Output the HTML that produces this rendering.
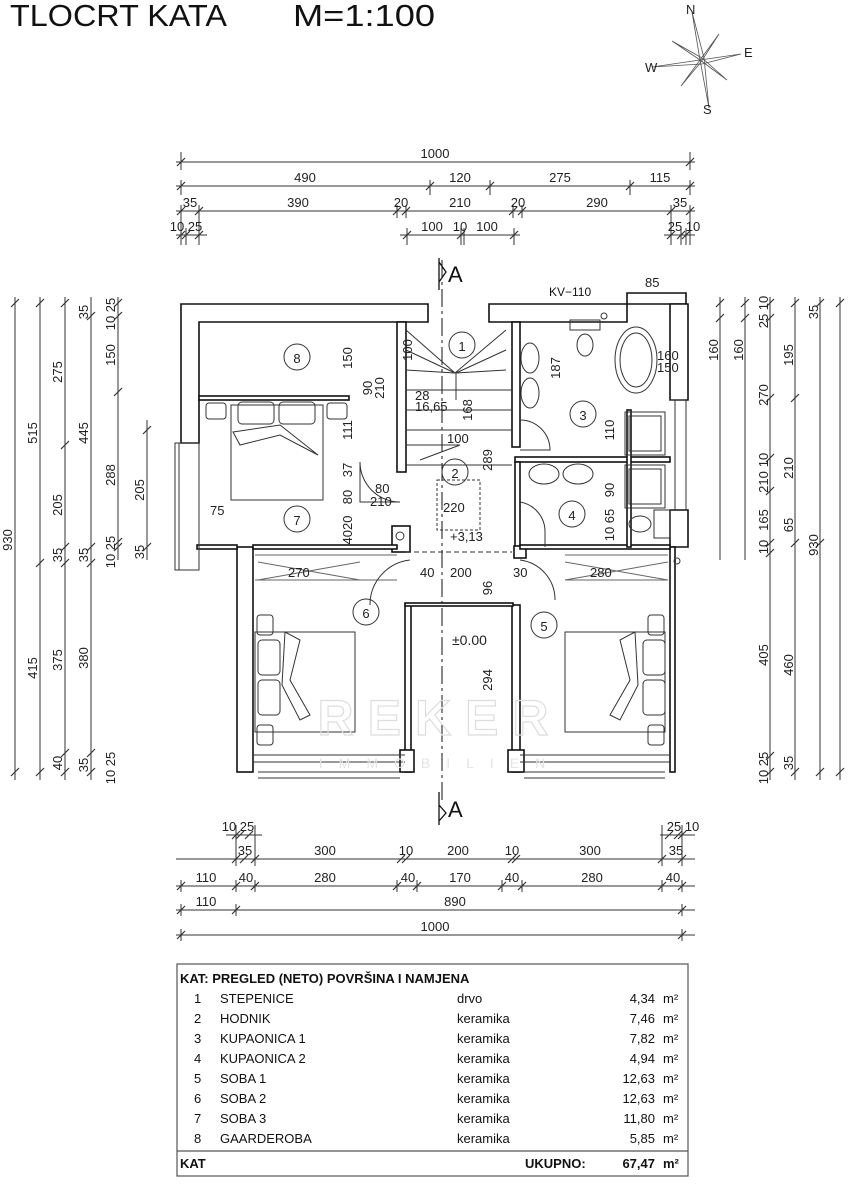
<!DOCTYPE html>
<html><head><meta charset="utf-8"><style>
html,body{margin:0;padding:0;background:#fff;width:862px;height:1200px;overflow:hidden}
svg{display:block}
.t{font-family:"Liberation Sans Narrow","Liberation Sans",sans-serif;font-size:13px;fill:#222}
.d{stroke:#333;stroke-width:1;fill:none}
.w{stroke:#111;stroke-width:1.6;fill:#fff}
.f{stroke:#333;stroke-width:1;fill:none}
.tb{font-family:"Liberation Sans",sans-serif;font-size:13px;fill:#111}
</style></head><body>
<svg width="862" height="1200" viewBox="0 0 862 1200" xmlns="http://www.w3.org/2000/svg">
<text x="10" y="26" font-family="Liberation Sans Narrow, Liberation Sans, sans-serif" font-size="31" textLength="217" lengthAdjust="spacingAndGlyphs" fill="#111">TLOCRT KATA</text>
<text x="293" y="26" font-family="Liberation Sans Narrow, Liberation Sans, sans-serif" font-size="31" textLength="142" lengthAdjust="spacingAndGlyphs" fill="#111">M=1:100</text>
<!-- compass -->
<g stroke="#555" stroke-width="0.8" fill="none">
<path d="M700 60 L692 12 L704 58 L709 108 Z"/>
<path d="M700 60 L652 67 L702 64 L741 54 Z"/>
<path d="M700 60 L672 41 L702 58 L727 80 Z"/>
<path d="M700 60 L719 34 L701 62 L681 86 Z"/>
</g>
<g class="t" font-size="10" fill="#777"><text x="686" y="14">N</text><text x="744" y="57">E</text><text x="645" y="72">W</text><text x="703" y="114">S</text></g>

<!-- top dimensions -->
<g class="d">
<path d="M176 162H695 M176 186H695 M176 211H695 M176 235H207 M400 235H520 M664 235H695"/>
<path d="M181 152V170 M690 152V170 M181 180V195 M430 180V195 M490 180V195 M630 180V195 M690 180V195"/>
<path d="M181 205V245 M199 205V245 M397 205V218 M406 205V218 M513 205V218 M522 205V218 M671 205V245 M690 205V245 M186 228V245 M407 228V245 M461 228V245 M464 228V245 M514 228V245 M681 228V245 M686 228V245"/>
<g stroke-width="1.2">
<path d="M177 166l8-8 M686 166l8-8 M177 190l8-8 M426 190l8-8 M486 190l8-8 M626 190l8-8 M686 190l8-8 M177 215l8-8 M195 215l8-8 M393 215l8-8 M402 215l8-8 M509 215l8-8 M518 215l8-8 M667 215l8-8 M686 215l8-8 M177 239l8-8 M182 239l8-8 M195 239l8-8 M403 239l8-8 M457 239l8-8 M510 239l8-8 M667 239l8-8 M677 239l8-8 M682 239l8-8"/>
</g></g>
<g class="t" text-anchor="middle">
<text x="435" y="158">1000</text>
<text x="305" y="182">490</text><text x="460" y="182">120</text><text x="560" y="182">275</text><text x="660" y="182">115</text>
<text x="190" y="207">35</text><text x="298" y="207">390</text><text x="401" y="207">20</text><text x="460" y="207">210</text><text x="518" y="207">20</text><text x="597" y="207">290</text><text x="680" y="207">35</text>
<text x="186" y="231">10 25</text><text x="432" y="231">100</text><text x="460" y="231">10</text><text x="487" y="231">100</text><text x="684" y="231">25 10</text>
</g>

<!-- section A markers -->
<g stroke="#111" stroke-width="1.3" fill="none">
<path d="M439 258V290 M439 262 L446 272 L439 282"/>
<path d="M439 792V825 M439 805 L446 813 L439 821"/>
<path d="M442 260V800" stroke-dasharray="18 4 3 4" stroke-width="1"/>
</g>
<text x="448" y="282" font-family="Liberation Sans" font-size="22" fill="#111">A</text>
<text x="448" y="817" font-family="Liberation Sans" font-size="22" fill="#111">A</text>

<!-- left dims -->
<g class="d">
<path d="M15 297V780 M40 297V780 M65 297V780 M91 297V780 M118 297V560 M147 420V560"/>
<g stroke-width="1.2">
<path d="M11 307l8-8 M11 776l8-8 M36 307l8-8 M36 567l8-8 M36 776l8-8 M61 307l8-8 M61 449l8-8 M61 551l8-8 M61 567l8-8 M61 757l8-8 M61 776l8-8 M87 320l8-8 M87 551l8-8 M87 567l8-8 M87 757l8-8 M87 776l8-8 M114 307l8-8 M114 320l8-8 M114 396l8-8 M114 546l8-8 M114 551l8-8 M143 434l8-8 M143 551l8-8"/>
</g></g>
<g class="t" text-anchor="middle">
<text transform="translate(12,540) rotate(-90)">930</text>
<text transform="translate(37,433) rotate(-90)">515</text>
<text transform="translate(37,668) rotate(-90)">415</text>
<text transform="translate(62,372) rotate(-90)">275</text>
<text transform="translate(62,505) rotate(-90)">205</text>
<text transform="translate(62,555) rotate(-90)">35</text>
<text transform="translate(62,660) rotate(-90)">375</text>
<text transform="translate(62,763) rotate(-90)">40</text>
<text transform="translate(88,312) rotate(-90)">35</text>
<text transform="translate(88,433) rotate(-90)">445</text>
<text transform="translate(88,555) rotate(-90)">35</text>
<text transform="translate(88,658) rotate(-90)">380</text>
<text transform="translate(88,765) rotate(-90)">35</text>
<text transform="translate(115,314) rotate(-90)">10 25</text>
<text transform="translate(115,355) rotate(-90)">150</text>
<text transform="translate(115,475) rotate(-90)">288</text>
<text transform="translate(115,552) rotate(-90)">10 25</text>
<text transform="translate(115,768) rotate(-90)">10 25</text>
<text transform="translate(144,490) rotate(-90)">205</text>
<text transform="translate(144,552) rotate(-90)">35</text>
</g>

<!-- right dims -->
<g class="d">
<path d="M720 297V560 M745 297V560 M770 297V780 M795 297V780 M820 297V780 M840 297V780"/>
<g stroke-width="1.2">
<path d="M716 307l8-8 M716 322l8-8 M741 307l8-8 M741 322l8-8 M766 307l8-8 M766 322l8-8 M766 402l8-8 M766 462l8-8 M766 495l8-8 M766 547l8-8 M766 557l8-8 M766 760l8-8 M766 776l8-8 M791 307l8-8 M791 402l8-8 M791 547l8-8 M791 776l8-8 M816 307l8-8 M816 547l8-8 M816 776l8-8 M836 307l8-8 M836 776l8-8"/>
</g></g>
<g class="t" text-anchor="middle">
<text transform="translate(768,312) rotate(-90)">25 10</text>
<text transform="translate(768,395) rotate(-90)">270</text>
<text transform="translate(768,460) rotate(-90)">10</text>
<text transform="translate(768,482) rotate(-90)">210</text>
<text transform="translate(768,520) rotate(-90)">165</text>
<text transform="translate(768,547) rotate(-90)">10</text>
<text transform="translate(768,655) rotate(-90)">405</text>
<text transform="translate(768,768) rotate(-90)">10 25</text>
<text transform="translate(793,355) rotate(-90)">195</text>
<text transform="translate(793,468) rotate(-90)">210</text>
<text transform="translate(793,525) rotate(-90)">65</text>
<text transform="translate(793,665) rotate(-90)">460</text>
<text transform="translate(793,763) rotate(-90)">35</text>
<text transform="translate(818,312) rotate(-90)">35</text>
<text transform="translate(818,545) rotate(-90)">930</text>
<text transform="translate(743,350) rotate(-90)">160</text>
<text transform="translate(718,350) rotate(-90)">160</text>
</g>

<!-- bottom dims -->
<g class="d">
<path d="M226 835H262 M660 835H695 M176 859H695 M176 886H695 M176 910H695 M176 935H695"/>
<path d="M181 880V892 M236 880V892 M255 880V892 M397 880V892 M417 880V892 M502 880V892 M522 880V892 M662 880V892 M682 880V892 M181 904V916 M236 904V916 M682 904V916 M181 929V941 M682 929V941 M236 825V866 M255 825V866 M662 825V866 M682 825V866"/>
<g stroke-width="1.2">
<path d="M177 890l8-8 M232 890l8-8 M251 890l8-8 M393 890l8-8 M413 890l8-8 M498 890l8-8 M518 890l8-8 M658 890l8-8 M678 890l8-8 M177 914l8-8 M232 914l8-8 M678 914l8-8 M177 939l8-8 M678 939l8-8 M232 863l8-8 M240 863l8-8 M251 863l8-8 M397 863l8-8 M402 863l8-8 M508 863l8-8 M512 863l8-8 M658 863l8-8 M678 863l8-8 M232 839l8-8 M236 839l8-8 M245 839l8-8 M665 839l8-8 M674 839l8-8 M678 839l8-8"/>
</g></g>
<g class="t" text-anchor="middle">
<text x="238" y="831">10 25</text><text x="683" y="831">25 10</text>
<text x="245" y="855">35</text><text x="325" y="855">300</text><text x="406" y="855">10</text><text x="458" y="855">200</text><text x="512" y="855">10</text><text x="590" y="855">300</text><text x="676" y="855">35</text>
<text x="206" y="882">110</text><text x="246" y="882">40</text><text x="325" y="882">280</text><text x="408" y="882">40</text><text x="460" y="882">170</text><text x="512" y="882">40</text><text x="592" y="882">280</text><text x="673" y="882">40</text>
<text x="206" y="906">110</text><text x="455" y="906">890</text>
<text x="435" y="931">1000</text>
</g>

<!-- walls -->
<g class="w">
<path d="M181 304H428V322H199V443H181Z"/>
<path d="M489 304H627V322H489Z"/>
<path d="M627 293H686V304H627Z" fill="none"/>
<path d="M670 304H688V400H670Z"/>
<path d="M670 510H688V547H670Z"/>
<rect x="397" y="322" width="9" height="150"/>
<rect x="512" y="322" width="8" height="125"/>
<rect x="199" y="396" width="150" height="4"/>
<rect x="515" y="457" width="155" height="5"/>
<rect x="515" y="462" width="5" height="85"/>
<rect x="237" y="547" width="16" height="225"/>
<rect x="670" y="547" width="5" height="225"/>
<rect x="405" y="605" width="6" height="167"/>
<rect x="512" y="605" width="8" height="167"/>
<rect x="405" y="603" width="108" height="3"/>
<rect x="392" y="526" width="18" height="26"/>
<rect x="514" y="546" width="12" height="12"/>
<rect x="197" y="545" width="40" height="4"/>
<rect x="253" y="545" width="144" height="4"/>
<rect x="520" y="545" width="150" height="4"/>
<rect x="400" y="750" width="14" height="22"/>
<rect x="508" y="750" width="16" height="22"/>
<rect x="627" y="410" width="4" height="137"/>
</g>
<g class="f">
<path d="M175 443H199V570H175Z M179 443V570"/>
<path d="M253 755H405 M253 762H405 M258 772H400 M258 778H400"/>
<path d="M520 755H670 M520 762H670 M524 772H665 M524 778H665"/>
<path d="M670 400H686V510 M675 400V510"/>
<path d="M255 555H397 M258 562L360 580 M258 580L360 562 M255 580H397" stroke="#666"/>
<path d="M565 555H668 M565 562L668 580 M565 580L668 562 M565 580H668" stroke="#666"/>
<path d="M406 552H512" stroke-dasharray="5 3"/>
<path d="M406 330 L455 373 L506 330 M406 350L455 373 M406 370L455 373 M456 373V400 M406 390H512 M406 410H512 M406 430H512 M456 373L506 350 M456 373L506 370"/>
<path d="M406 445 L460 445 L420 460 M406 465H512"/>
<path d="M437 480H480V530H437Z" stroke-dasharray="3 2"/>
<!-- doors -->
<path d="M360 462 A40 40 0 0 0 400 502 M360 462 V502 H400"/>
<path d="M520 502 A30 30 0 0 1 545 532 V547"/>
<path d="M520 420 A30 30 0 0 1 550 450 H520"/>
<path d="M410 560 A45 45 0 0 0 370 605 M520 560 A40 40 0 0 1 555 600"/>
<!-- beds -->
<rect x="231" y="405" width="92" height="95"/>
<rect x="206" y="403" width="20" height="16" rx="3"/><rect x="238" y="402" width="36" height="22" rx="4"/><rect x="279" y="402" width="36" height="22" rx="4"/><rect x="327" y="403" width="20" height="16" rx="3"/>
<path d="M233 432 L280 425 L318 455 L280 435 L240 445Z"/>
<rect x="255" y="632" width="100" height="100"/>
<rect x="257" y="615" width="16" height="20" rx="3"/><rect x="258" y="640" width="22" height="35" rx="4"/><rect x="258" y="680" width="22" height="35" rx="4"/><rect x="257" y="725" width="16" height="20" rx="3"/>
<path d="M285 632 L300 640 L290 680 L310 715 L300 720 L282 685Z"/>
<rect x="565" y="632" width="100" height="100"/>
<rect x="648" y="615" width="16" height="20" rx="3"/><rect x="643" y="640" width="22" height="35" rx="4"/><rect x="643" y="680" width="22" height="35" rx="4"/><rect x="648" y="725" width="16" height="20" rx="3"/>
<path d="M635 632 L620 640 L630 680 L610 715 L620 720 L638 685Z"/>
<!-- bath fixtures -->
<ellipse cx="636" cy="360" rx="21" ry="33"/><ellipse cx="636" cy="360" rx="16" ry="27"/>
<rect x="570" y="320" width="30" height="10"/><ellipse cx="585" cy="345" rx="8" ry="11"/>
<ellipse cx="530" cy="358" rx="9" ry="15"/><ellipse cx="530" cy="393" rx="9" ry="15"/>
<ellipse cx="544" cy="474" rx="15" ry="10"/><ellipse cx="578" cy="474" rx="15" ry="10"/>
<rect x="625" y="412" width="40" height="43"/><rect x="629" y="416" width="32" height="35"/>
<rect x="625" y="465" width="40" height="43"/><rect x="629" y="469" width="32" height="35"/>
<rect x="654" y="510" width="16" height="28"/><ellipse cx="640" cy="524" rx="11" ry="8"/>
<circle cx="400" cy="536" r="4"/>
<circle cx="604" cy="316" r="3"/><circle cx="677" cy="561" r="3"/>
<!-- room numbers -->
<circle cx="297" cy="357" r="13"/><circle cx="462" cy="345" r="13"/><circle cx="583" cy="414" r="13"/><circle cx="572" cy="514" r="13"/>
<circle cx="455" cy="472" r="13"/><circle cx="297" cy="519" r="13"/><circle cx="366" cy="612" r="13"/><circle cx="544" cy="625" r="13"/>
</g>
<g class="t" text-anchor="middle" font-size="15" fill="#111">
<text x="297" y="363">8</text><text x="462" y="351">1</text><text x="583" y="420">3</text><text x="572" y="520">4</text>
<text x="455" y="478">2</text><text x="297" y="525">7</text><text x="366" y="618">6</text><text x="544" y="631">5</text>
</g>
<g class="t" font-size="12">
<text x="450" y="541">+3,13</text><text x="452" y="645" font-size="14">±0.00</text>
<text x="549" y="296" font-size="12" fill="#111">KV−110</text>
<text x="645" y="287">85</text>
<text x="657" y="360">160</text><text x="657" y="372">150</text>
<text x="288" y="577">270</text><text x="450" y="577">200</text><text x="590" y="577">280</text>
<text x="420" y="577">40</text><text x="513" y="577">30</text>
<text x="210" y="515">75</text>
<text x="447" y="443">100</text><text x="443" y="512">220</text>
<text x="415" y="400">28</text><text x="415" y="411">16,65</text>
<text x="375" y="493">80</text><text x="370" y="506">210</text>
</g>
<g class="t" font-size="12" text-anchor="middle">
<text transform="translate(352,358) rotate(-90)">150</text>
<text transform="translate(472,410) rotate(-90)">168</text>
<text transform="translate(492,460) rotate(-90)">289</text>
<text transform="translate(492,680) rotate(-90)">294</text>
<text transform="translate(560,368) rotate(-90)">187</text>
<text transform="translate(614,430) rotate(-90)">110</text>
<text transform="translate(614,490) rotate(-90)">90</text>
<text transform="translate(614,525) rotate(-90)">10 65</text>
<text transform="translate(412,350) rotate(-90)">100</text>
<text transform="translate(352,430) rotate(-90)">111</text>
<text transform="translate(352,470) rotate(-90)">37</text>
<text transform="translate(352,497) rotate(-90)">80</text>
<text transform="translate(352,530) rotate(-90)">4020</text>
<text transform="translate(492,588) rotate(-90)">96</text>
<text transform="translate(372,388) rotate(-90)">90</text>
<text transform="translate(384,388) rotate(-90)">210</text>
</g>
<!-- faint watermark -->
<text x="440" y="735" text-anchor="middle" font-family="Liberation Sans" font-size="50" font-weight="bold" fill="none" stroke="#ddd" stroke-width="1.2" letter-spacing="14">REKER</text>
<text x="440" y="768" text-anchor="middle" font-family="Liberation Sans" font-size="14" fill="#e4e4e4" letter-spacing="16">IMMOBILIEN</text>

<!-- table -->
<g fill="none" stroke="#555" stroke-width="1.2">
<rect x="177" y="964" width="511" height="212"/>
<path d="M177 1151H688"/>
</g>
<g class="tb">
<text x="180" y="983" font-weight="bold">KAT: PREGLED (NETO) POVRŠINA I NAMJENA</text>
<g>
<text x="194" y="1003">1</text><text x="220" y="1003">STEPENICE</text><text x="457" y="1003">drvo</text><text x="655" y="1003" text-anchor="end">4,34</text><text x="663" y="1003">m²</text>
<text x="194" y="1023">2</text><text x="220" y="1023">HODNIK</text><text x="457" y="1023">keramika</text><text x="655" y="1023" text-anchor="end">7,46</text><text x="663" y="1023">m²</text>
<text x="194" y="1043">3</text><text x="220" y="1043">KUPAONICA 1</text><text x="457" y="1043">keramika</text><text x="655" y="1043" text-anchor="end">7,82</text><text x="663" y="1043">m²</text>
<text x="194" y="1063">4</text><text x="220" y="1063">KUPAONICA 2</text><text x="457" y="1063">keramika</text><text x="655" y="1063" text-anchor="end">4,94</text><text x="663" y="1063">m²</text>
<text x="194" y="1083">5</text><text x="220" y="1083">SOBA 1</text><text x="457" y="1083">keramika</text><text x="655" y="1083" text-anchor="end">12,63</text><text x="663" y="1083">m²</text>
<text x="194" y="1103">6</text><text x="220" y="1103">SOBA 2</text><text x="457" y="1103">keramika</text><text x="655" y="1103" text-anchor="end">12,63</text><text x="663" y="1103">m²</text>
<text x="194" y="1123">7</text><text x="220" y="1123">SOBA 3</text><text x="457" y="1123">keramika</text><text x="655" y="1123" text-anchor="end">11,80</text><text x="663" y="1123">m²</text>
<text x="194" y="1143">8</text><text x="220" y="1143">GAARDEROBA</text><text x="457" y="1143">keramika</text><text x="655" y="1143" text-anchor="end">5,85</text><text x="663" y="1143">m²</text>
</g>
<text x="180" y="1168" font-weight="bold">KAT</text>
<text x="525" y="1168" font-weight="bold">UKUPNO:</text>
<text x="655" y="1168" text-anchor="end" font-weight="bold">67,47</text><text x="663" y="1168" font-weight="bold">m²</text>
</g>
</svg>
</body></html>
